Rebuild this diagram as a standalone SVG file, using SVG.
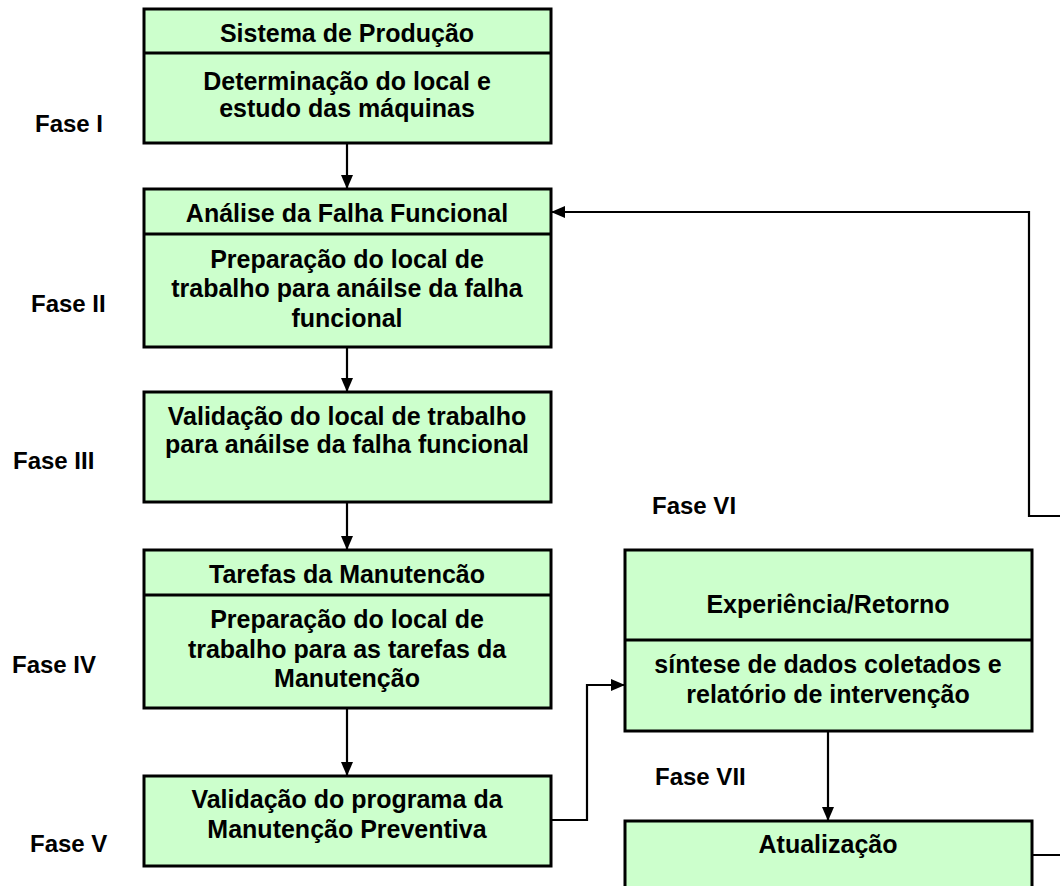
<svg xmlns="http://www.w3.org/2000/svg" width="1060" height="886" viewBox="0 0 1060 886">
<defs>
<marker id="arr" viewBox="0 0 14 12" refX="14" refY="6" markerWidth="14" markerHeight="12" markerUnits="userSpaceOnUse" orient="auto">
<path d="M0,0 L14,6 L0,12 Z" fill="#000"/>
</marker>
<style>
.box{fill:#CCFFCC;stroke:#000;stroke-width:3}
.div{stroke:#000;stroke-width:3}
.t{font-family:"Liberation Sans",Arial,sans-serif;font-weight:bold;font-size:25px;fill:#000;text-anchor:middle}
.f{font-family:"Liberation Sans",Arial,sans-serif;font-weight:bold;font-size:24px;fill:#000}
.c{fill:none;stroke:#000;stroke-width:2.2}
</style>
</defs>
<rect width="1060" height="886" fill="#fff"/>

<g id="connectors">
<path class="c" d="M347,143 V189" marker-end="url(#arr)"/>
<path class="c" d="M347,347 V392" marker-end="url(#arr)"/>
<path class="c" d="M347,502 V550" marker-end="url(#arr)"/>
<path class="c" d="M347,708 V776" marker-end="url(#arr)"/>
<path class="c" d="M551,820 H587 V685 H625" marker-end="url(#arr)"/>
<path class="c" d="M828,731 V821" marker-end="url(#arr)"/>
<path class="c" d="M1032,855 H1080 V516 H1029 V212 H551" marker-end="url(#arr)"/>
</g>

<g id="fase-labels">
<text class="f" x="35" y="132">Fase I</text>
<text class="f" x="31" y="312">Fase II</text>
<text class="f" x="13" y="469">Fase III</text>
<text class="f" x="12" y="673">Fase IV</text>
<text class="f" x="30" y="852">Fase V</text>
<text class="f" x="652" y="514">Fase VI</text>
<text class="f" x="655" y="785">Fase VII</text>
</g>

<g id="fase1">
<rect class="box" x="144" y="9" width="407" height="134"/>
<line class="div" x1="144" y1="53" x2="551" y2="53"/>
<text class="t" x="347" y="42">Sistema de Produção</text>
<text class="t" x="347" y="90">Determinação do local e</text>
<text class="t" x="347" y="117">estudo das máquinas</text>
</g>

<g id="fase2">
<rect class="box" x="144" y="189" width="407" height="158"/>
<line class="div" x1="144" y1="234" x2="551" y2="234"/>
<text class="t" x="347" y="222">Análise da Falha Funcional</text>
<text class="t" x="347" y="268">Preparação do local de</text>
<text class="t" x="347" y="297">trabalho para anáilse da falha</text>
<text class="t" x="347" y="327">funcional</text>
</g>

<g id="fase3">
<rect class="box" x="144" y="392" width="407" height="110"/>
<text class="t" x="347" y="425">Validação do local de trabalho</text>
<text class="t" x="347" y="453">para anáilse da falha funcional</text>
</g>

<g id="fase4">
<rect class="box" x="144" y="550" width="407" height="158"/>
<line class="div" x1="144" y1="595" x2="551" y2="595"/>
<text class="t" x="347" y="583">Tarefas da Manutencão</text>
<text class="t" x="347" y="628">Preparação do local de</text>
<text class="t" x="347" y="658">trabalho para as tarefas da</text>
<text class="t" x="347" y="687">Manutenção</text>
</g>

<g id="fase5">
<rect class="box" x="144" y="776" width="407" height="90"/>
<text class="t" x="347" y="808">Validação do programa da</text>
<text class="t" x="347" y="838">Manutenção Preventiva</text>
</g>

<g id="fase6">
<rect class="box" x="625" y="550" width="407" height="181"/>
<line class="div" x1="625" y1="640" x2="1032" y2="640"/>
<text class="t" x="828" y="613">Experiência/Retorno</text>
<text class="t" x="828" y="673">síntese de dados coletados e</text>
<text class="t" x="828" y="703">relatório de intervenção</text>
</g>

<g id="fase7">
<rect class="box" x="625" y="821" width="407" height="90"/>
<text class="t" x="828" y="853">Atualização</text>
</g>
</svg>
